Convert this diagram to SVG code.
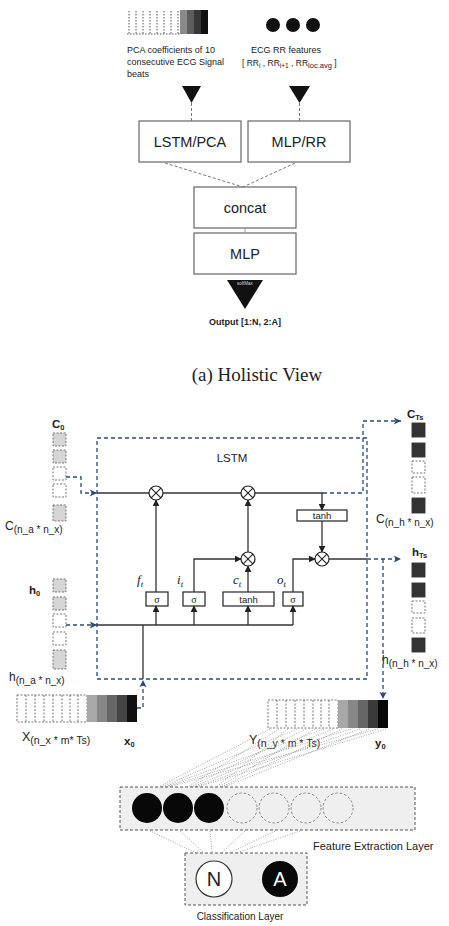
<svg xmlns="http://www.w3.org/2000/svg" width="449" height="926" viewBox="0 0 449 926">
<defs>
<style>
.sans{font-family:"Liberation Sans",Arial,sans-serif;fill:#222}
.serif{font-family:"Liberation Serif","Times New Roman",serif;fill:#222}
.box{fill:#fff;stroke:#666;stroke-width:1.2}
.gdash{stroke:#777;stroke-width:1;stroke-dasharray:3 2;fill:none}
.bdash{stroke:#2c4a70;stroke-width:1.3;stroke-dasharray:4 3;fill:none}
.solid{stroke:#333;stroke-width:1.3;fill:none}
.cellG{fill:#d6d6d6;stroke:#666;stroke-width:0.9;stroke-dasharray:2 1.5}
.cellW{fill:#fff;stroke:#666;stroke-width:0.9;stroke-dasharray:2 1.5}
.cellK{fill:#333;stroke:#333;stroke-width:0.9}
.otimes circle{fill:#fff;stroke:#222;stroke-width:1.2}
.otimes line{stroke:#222;stroke-width:1.1}
.gate{fill:#fff;stroke:#222;stroke-width:1.2}
.dot{stroke:#9a9a9a;stroke-width:0.9;stroke-dasharray:1 1.5;fill:none}
</style>
<marker id="arrB" viewBox="0 0 10 10" refX="9" refY="5" markerWidth="7" markerHeight="7" orient="auto" markerUnits="userSpaceOnUse"><path d="M0,0 L10,5 L0,10 z" fill="#222"/></marker>
<marker id="arrD" viewBox="0 0 10 10" refX="9" refY="5" markerWidth="9" markerHeight="9" orient="auto" markerUnits="userSpaceOnUse"><path d="M1,1 L9,5 L1,9 L3,5 z" fill="#2c4a70"/></marker>
<g id="otimes" class="otimes"><circle cx="0" cy="0" r="7"/><line x1="-4.9" y1="-4.9" x2="4.9" y2="4.9"/><line x1="-4.9" y1="4.9" x2="4.9" y2="-4.9"/></g>
</defs>
<rect width="449" height="926" fill="#fff"/>

<!-- ===== (a) Holistic view ===== -->
<g id="pca-input">
  <rect x="127" y="10" width="53" height="24" fill="#fff"/>
  <g stroke="#555" stroke-width="1" stroke-dasharray="1.5 1.5">
    <line x1="129" y1="11" x2="129" y2="34"/><line x1="136" y1="11" x2="136" y2="34"/><line x1="143" y1="11" x2="143" y2="34"/><line x1="150" y1="11" x2="150" y2="34"/><line x1="157" y1="11" x2="157" y2="34"/><line x1="164" y1="11" x2="164" y2="34"/><line x1="171" y1="11" x2="171" y2="34"/><line x1="178" y1="11" x2="178" y2="34"/>
    <line x1="127" y1="34" x2="180" y2="34"/>
  </g>
  <rect x="180" y="10" width="7" height="24" fill="#8a8a8a"/>
  <rect x="187" y="10" width="7" height="24" fill="#5e5e5e"/>
  <rect x="194" y="10" width="7" height="24" fill="#383838"/>
  <rect x="201" y="10" width="7" height="24" fill="#111"/>
  <text class="sans" font-size="9" x="127" y="53">PCA coefficients of 10</text>
  <text class="sans" font-size="9" x="127" y="65">consecutive  ECG Signal</text>
  <text class="sans" font-size="9" x="127" y="77">beats</text>
</g>
<g id="rr-input">
  <circle cx="273" cy="25" r="7" fill="#111"/>
  <circle cx="293" cy="25" r="7" fill="#111"/>
  <circle cx="313" cy="25" r="7" fill="#111"/>
  <text class="sans" font-size="9" x="286" y="53" text-anchor="middle">ECG RR features</text>
  <text class="sans" font-size="8.5" x="242" y="66">[ RR<tspan font-size="6.5" dy="2">i</tspan><tspan dy="-2"> , RR</tspan><tspan font-size="6.5" dy="2">i+1</tspan><tspan dy="-2"> , RR</tspan><tspan font-size="7.5" dy="2">loc.avg</tspan><tspan dy="-2"> ]</tspan></text>
</g>
<g id="tri-left"><path d="M182,86 L201,86 L191.5,103 z" fill="#111"/></g>
<g id="tri-right"><path d="M289,86 L310,86 L299.5,103 z" fill="#111"/></g>
<g id="lstm-pca"><rect class="box" x="139" y="121" width="102" height="41"/><text class="sans" font-size="14.5" x="190" y="147" text-anchor="middle">LSTM/PCA</text></g>
<g id="mlp-rr"><rect class="box" x="248" y="121" width="102" height="41"/><text class="sans" font-size="14.5" x="299" y="147" text-anchor="middle">MLP/RR</text></g>
<g id="concat"><rect class="box" x="194" y="187" width="102" height="41"/><text class="sans" font-size="14.5" x="245" y="213" text-anchor="middle">concat</text></g>
<g id="mlp"><rect class="box" x="194" y="233" width="102" height="41"/><text class="sans" font-size="14.5" x="245" y="259" text-anchor="middle">MLP</text></g>
<g id="softmax">
  <path d="M227,280 L263,280 L245,309 z" fill="#111"/>
  <text class="sans" font-size="4.5" x="245" y="285" text-anchor="middle" style="fill:#ddd">softMax</text>
</g>
<g id="output"><text class="sans" font-size="9" font-weight="bold" x="245" y="325" text-anchor="middle">Output [1:N, 2:A]</text></g>
<g id="caption"><text class="serif" font-size="19" x="257" y="381" text-anchor="middle">(a) Holistic View</text></g>

<g id="connectors-top">
  <line class="gdash" x1="191.5" y1="103" x2="191.5" y2="121"/>
  <line class="gdash" x1="299.5" y1="103" x2="299.5" y2="121"/>
  <line class="gdash" x1="165" y1="163" x2="243" y2="187"/>
  <line class="gdash" x1="295" y1="163" x2="243" y2="187"/>
  <line x1="245" y1="228" x2="245" y2="233" stroke="#999" stroke-width="1"/>
</g>

<!-- ===== LSTM cell ===== -->
<g id="lstm-box">
  <rect class="bdash" x="97" y="438" width="270" height="241"/>
  <text class="sans" font-size="11.5" x="232" y="462" text-anchor="middle">LSTM</text>
</g>

<g id="c0">
  <text class="sans" font-size="11.5" font-weight="bold" x="52" y="428">C<tspan font-size="7.5" dy="2">0</tspan></text>
  <rect class="cellG" x="53" y="433" width="13" height="13"/>
  <rect class="cellG" x="53" y="450" width="13" height="13"/>
  <rect class="cellW" x="53" y="467" width="13" height="13"/>
  <rect class="cellW" x="53" y="484" width="13" height="13"/>
  <rect class="cellG" x="53" y="505" width="13" height="16"/>
  <text class="sans" font-size="12" x="5" y="530">C<tspan font-size="10" dy="3">(n_a * n_x)</tspan></text>
</g>
<g id="h0">
  <text class="sans" font-size="11.5" font-weight="bold" x="29" y="594">h<tspan font-size="7.5" dy="2">0</tspan></text>
  <rect class="cellG" x="53" y="579" width="13" height="13"/>
  <rect class="cellG" x="53" y="597" width="13" height="13"/>
  <rect class="cellW" x="53" y="614" width="13" height="13"/>
  <rect class="cellW" x="53" y="632" width="13" height="13"/>
  <rect class="cellG" x="53" y="650" width="13" height="19"/>
  <text class="sans" font-size="12" x="9" y="681">h<tspan font-size="10" dy="3">(n_a * n_x)</tspan></text>
</g>
<g id="x-input">
  <rect x="17" y="695" width="70" height="27" fill="#fff" stroke="#666" stroke-width="0.9" stroke-dasharray="2 1.5"/>
  <g stroke="#666" stroke-width="0.9" stroke-dasharray="2 1.5">
    <line x1="26" y1="695" x2="26" y2="722"/><line x1="35" y1="695" x2="35" y2="722"/><line x1="44" y1="695" x2="44" y2="722"/><line x1="53" y1="695" x2="53" y2="722"/><line x1="62" y1="695" x2="62" y2="722"/><line x1="70" y1="695" x2="70" y2="722"/><line x1="78" y1="695" x2="78" y2="722"/>
  </g>
  <rect x="87" y="695" width="10" height="27" fill="#a8a8a8"/>
  <rect x="97" y="695" width="10" height="27" fill="#878787"/>
  <rect x="107" y="695" width="10" height="27" fill="#666"/>
  <rect x="117" y="695" width="10" height="27" fill="#444"/>
  <rect x="127" y="695" width="10" height="27" fill="#111"/>
  <text class="sans" font-size="12.5" x="22" y="741">X<tspan font-size="10.5" dy="3">(n_x * m* Ts)</tspan></text>
  <text class="sans" font-size="11.5" font-weight="bold" x="124" y="745">x<tspan font-size="7.5" dy="2">0</tspan></text>
</g>
<g id="c-ts">
  <text class="sans" font-size="11.5" font-weight="bold" x="407" y="418">C<tspan font-size="7.5" dy="2">Ts</tspan></text>
  <rect class="cellK" x="412" y="423" width="13" height="14"/>
  <rect class="cellK" x="412" y="443" width="13" height="14"/>
  <rect class="cellW" x="412" y="461" width="13" height="12"/>
  <rect class="cellW" x="412" y="477" width="13" height="16"/>
  <rect class="cellK" x="412" y="498" width="13" height="15"/>
  <text class="sans" font-size="12" x="376" y="523">C<tspan font-size="10" dy="3">(n_h * n_x)</tspan></text>
</g>
<g id="h-ts">
  <text class="sans" font-size="11.5" font-weight="bold" x="412" y="556">h<tspan font-size="7.5" dy="2">Ts</tspan></text>
  <rect class="cellK" x="412" y="563" width="13" height="14"/>
  <rect class="cellK" x="412" y="583" width="13" height="14"/>
  <rect class="cellW" x="412" y="601" width="13" height="12"/>
  <rect class="cellW" x="412" y="618" width="13" height="15"/>
  <rect class="cellK" x="412" y="638" width="13" height="14"/>
  <text class="sans" font-size="12" x="382" y="664">h<tspan font-size="10" dy="3">(n_h * n_x)</tspan></text>
</g>
<g id="y-output">
  <rect x="268" y="700" width="70" height="28" fill="#fff" stroke="#666" stroke-width="0.9" stroke-dasharray="2 1.5"/>
  <g stroke="#666" stroke-width="0.9" stroke-dasharray="2 1.5">
    <line x1="277" y1="700" x2="277" y2="728"/><line x1="286" y1="700" x2="286" y2="728"/><line x1="295" y1="700" x2="295" y2="728"/><line x1="304" y1="700" x2="304" y2="728"/><line x1="313" y1="700" x2="313" y2="728"/><line x1="321" y1="700" x2="321" y2="728"/><line x1="329" y1="700" x2="329" y2="728"/>
  </g>
  <rect x="338" y="700" width="10" height="28" fill="#a8a8a8"/>
  <rect x="348" y="700" width="10" height="28" fill="#878787"/>
  <rect x="358" y="700" width="10" height="28" fill="#666"/>
  <rect x="368" y="700" width="10" height="28" fill="#3a3a3a"/>
  <rect x="378" y="700" width="10" height="28" fill="#080808"/>
  <text class="sans" font-size="12.5" x="249" y="744">Y<tspan font-size="10.5" dy="3">(n_y * m * Ts)</tspan></text>
  <text class="sans" font-size="11.5" font-weight="bold" x="375" y="747">y<tspan font-size="7.5" dy="2">0</tspan></text>
</g>

<!-- gates -->
<g id="gate-f"><rect class="gate" x="146" y="592" width="22" height="14"/><text class="serif" font-size="10" x="157" y="603" text-anchor="middle">σ</text><text class="serif" font-size="13" font-style="italic" x="137" y="584">f<tspan font-size="9" dy="3">t</tspan></text></g>
<g id="gate-i"><rect class="gate" x="183" y="592" width="22" height="14"/><text class="serif" font-size="10" x="194" y="603" text-anchor="middle">σ</text><text class="serif" font-size="13" font-style="italic" x="177" y="584">i<tspan font-size="9" dy="3">t</tspan></text></g>
<g id="gate-c"><rect class="gate" x="223" y="592" width="51" height="14"/><text class="sans" font-size="9.5" x="248.5" y="603" text-anchor="middle">tanh</text><text class="serif" font-size="13" font-style="italic" x="233" y="584">c<tspan font-size="9" dy="3">t</tspan></text></g>
<g id="gate-o"><rect class="gate" x="283" y="592" width="20" height="14"/><text class="serif" font-size="10" x="293" y="603" text-anchor="middle">σ</text><text class="serif" font-size="13" font-style="italic" x="277" y="584">o<tspan font-size="9" dy="3">t</tspan></text></g>
<g id="tanh-out"><rect class="gate" x="297" y="510" width="50" height="11"/><text class="sans" font-size="9.5" x="322" y="519" text-anchor="middle">tanh</text></g>

<g id="connectors">
  <line class="solid" x1="97" y1="493" x2="323" y2="493"/>
  <polyline class="bdash" points="323,493 363,493 363,421 401,421" marker-end="url(#arrD)"/>
  <line class="solid" x1="322" y1="493" x2="322" y2="510" marker-end="url(#arrB)"/>
  <line class="solid" x1="322" y1="521" x2="322" y2="552" marker-end="url(#arrB)"/>
  <line class="solid" x1="329" y1="559" x2="367" y2="559"/>
  <line class="bdash" x1="367" y1="559" x2="401" y2="559" marker-end="url(#arrD)"/>
  <polyline class="bdash" points="383,559 383,699" marker-end="url(#arrD)"/>
  <polyline class="solid" points="293,592 293,559 315,559" marker-end="url(#arrB)"/>
  <polyline class="solid" points="194,592 194,559 241,559" marker-end="url(#arrB)"/>
  <line class="solid" x1="248" y1="592" x2="248" y2="566" marker-end="url(#arrB)"/>
  <line class="solid" x1="248" y1="552" x2="248" y2="500" marker-end="url(#arrB)"/>
  <line class="solid" x1="156" y1="592" x2="156" y2="500" marker-end="url(#arrB)"/>
  <line class="solid" x1="97" y1="625" x2="293" y2="625"/>
  <line class="solid" x1="156" y1="625" x2="156" y2="606" marker-end="url(#arrB)"/>
  <line class="solid" x1="194" y1="625" x2="194" y2="606" marker-end="url(#arrB)"/>
  <line class="solid" x1="248" y1="625" x2="248" y2="606" marker-end="url(#arrB)"/>
  <line class="solid" x1="293" y1="625" x2="293" y2="606" marker-end="url(#arrB)"/>
  <line class="solid" x1="143" y1="679" x2="143" y2="625"/>
  <polyline class="bdash" points="137,708 143,708 143,680" marker-end="url(#arrD)"/>
  <polyline class="bdash" points="66,477 81,477 81,493 97,493" marker-end="url(#arrD)"/>
  <polyline class="bdash" points="66,625 97,625" marker-end="url(#arrD)"/>
  <g class="dot">
    <line x1="270" y1="729" x2="147" y2="793"/><line x1="279" y1="729" x2="178" y2="793"/><line x1="288" y1="729" x2="209" y2="793"/>
    <line x1="297" y1="729" x2="147" y2="793"/><line x1="306" y1="729" x2="178" y2="793"/><line x1="315" y1="729" x2="209" y2="793"/>
    <line x1="324" y1="729" x2="147" y2="793"/><line x1="333" y1="729" x2="178" y2="793"/><line x1="342" y1="729" x2="209" y2="793"/>
    <line x1="351" y1="729" x2="147" y2="793"/><line x1="360" y1="729" x2="178" y2="793"/><line x1="369" y1="729" x2="209" y2="793"/>
    <line x1="378" y1="729" x2="147" y2="793"/><line x1="386" y1="729" x2="178" y2="793"/>
    <line x1="150" y1="831" x2="213" y2="861"/><line x1="180" y1="831" x2="213" y2="861"/><line x1="210" y1="831" x2="213" y2="861"/>
    <line x1="245" y1="831" x2="213" y2="861"/><line x1="275" y1="831" x2="213" y2="861"/><line x1="300" y1="831" x2="213" y2="861"/>
  </g>
</g>

<g id="mul-f"><use href="#otimes" x="156" y="493"/></g>
<g id="mul-c"><use href="#otimes" x="248" y="493"/></g>
<g id="mul-i"><use href="#otimes" x="248" y="559"/></g>
<g id="mul-o"><use href="#otimes" x="322" y="559"/></g>

<!-- ===== classifier ===== -->
<g id="feature-layer">
  <rect x="120" y="787" width="295" height="43" fill="#efefef" stroke="#555" stroke-width="1" stroke-dasharray="3 2"/>
  <circle cx="147" cy="808" r="15" fill="#080808"/>
  <circle cx="178" cy="808" r="15" fill="#080808"/>
  <circle cx="209" cy="808" r="15" fill="#080808"/>
  <g fill="none" stroke="#888" stroke-width="1" stroke-dasharray="2.5 2">
    <circle cx="242" cy="808" r="15"/><circle cx="274" cy="808" r="15"/><circle cx="306" cy="808" r="15"/><circle cx="338" cy="808" r="15"/>
  </g>
  <text class="sans" font-size="11" x="313" y="850">Feature Extraction Layer</text>
</g>
<g id="class-layer">
  <rect x="185" y="853" width="122" height="52" fill="#efefef" stroke="#555" stroke-width="1" stroke-dasharray="3 2"/>
  <circle cx="214" cy="879" r="18" fill="#fff" stroke="#333" stroke-width="1.2"/>
  <text class="sans" font-size="20" x="214" y="886" text-anchor="middle">N</text>
  <circle cx="280" cy="879" r="18" fill="#080808"/>
  <text class="sans" font-size="20" x="280" y="886" text-anchor="middle" style="fill:#fff">A</text>
  <text class="sans" font-size="10" x="240" y="920" text-anchor="middle">Classification Layer</text>
</g>
</svg>
